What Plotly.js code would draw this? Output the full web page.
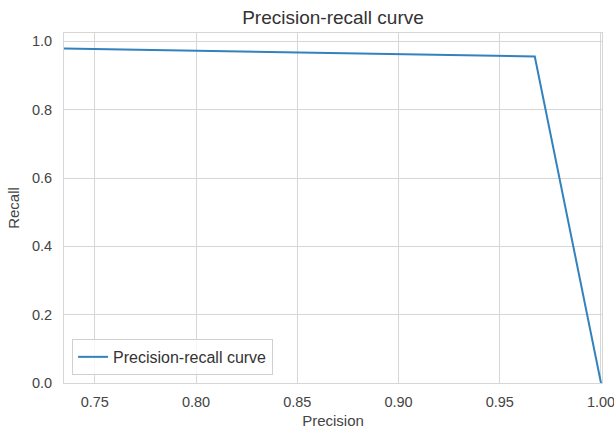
<!DOCTYPE html>
<html>
<head>
<meta charset="utf-8">
<script src="https://cdn.plot.ly/plotly-3.0.1.min.js"></script>
<style>html,body{margin:0;padding:0;background:#fff;}#chart{width:614px;height:431px;}</style>
</head>
<body>
<div id="chart"></div>
<script>
const precision = [0.7348, 0.9673, 1.0];
const recall = [0.9795, 0.956, 0.0];
const xTicks = [0.75, 0.80, 0.85, 0.90, 0.95, 1.00];
const xTickText = ["0.75", "0.80", "0.85", "0.90", "0.95", "1.00"];
const yTicks = [0.0, 0.2, 0.4, 0.6, 0.8, 1.0];
const yTickText = ["0.0", "0.2", "0.4", "0.6", "0.8", "1.0"];
const seriesName = "Precision-recall curve";

const font = "Liberation Sans, Arial, sans-serif";
const trace = {
  x: precision, y: recall, type: "scatter", mode: "lines",
  name: seriesName,
  line: {color: "#3182bd", width: 2}
};
const axisCommon = {
  showgrid: true, gridcolor: "#d6d6d6", gridwidth: 1,
  showline: true, linecolor: "#d6d6d6", linewidth: 1, mirror: true,
  zeroline: false, ticks: "", tickfont: {family: font, size: 14.5, color: "#444"},
  ticklabeloverflow: "allow", fixedrange: true
};
const layout = {
  width: 614, height: 431,
  margin: {l: 64, r: 12, t: 33, b: 48},
  paper_bgcolor: "#fff", plot_bgcolor: "#fff",
  title: {text: "Precision-recall curve", font: {family: font, size: 19, color: "#333"}, x: 0.5423, xanchor: "center", y: 0.96, yanchor: "middle"},
  xaxis: Object.assign({}, axisCommon, {
    range: [0.7348, 1.0005], tickvals: xTicks, ticktext: xTickText, ticklabelstandoff: 6,
    title: {text: "Precision", font: {family: font, size: 15, color: "#444"}, standoff: 6}
  }),
  yaxis: Object.assign({}, axisCommon, {
    range: [0, 1.0246], tickvals: yTicks, ticktext: yTickText, ticklabelstandoff: 8,
    title: {text: "Recall", font: {family: font, size: 15, color: "#444"}, standoff: 8}
  }),
  showlegend: true,
  legend: {x: 0.015, y: 0.023, xanchor: "left", yanchor: "bottom",
    bgcolor: "rgba(255,255,255,0.8)", bordercolor: "#d0d0d0", borderwidth: 1,
    font: {family: font, size: 16, color: "#333"}}
};
Plotly.newPlot("chart", [trace], layout, {displayModeBar: false, staticPlot: true});
</script>
</body>
</html>
